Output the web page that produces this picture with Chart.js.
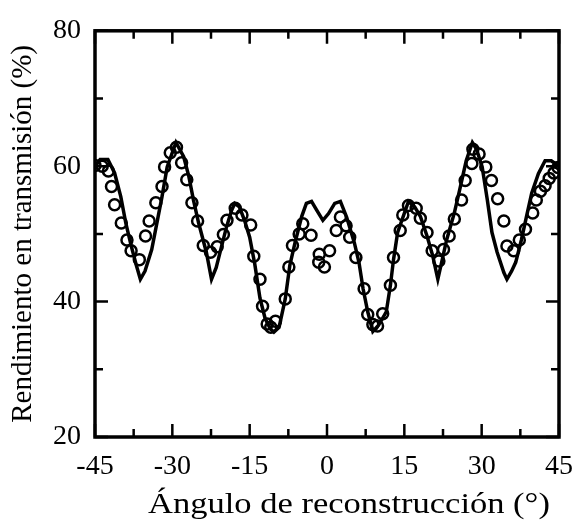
<!DOCTYPE html>
<html>
<head>
<meta charset="utf-8">
<script src="https://cdn.jsdelivr.net/npm/chart.js@4/dist/chart.umd.min.js"></script>
<style>
  html, body { margin: 0; padding: 0; background: #fff; }
  #wrap { position: relative; width: 586px; height: 532px; }
</style>
</head>
<body>
<div id="wrap"><canvas id="chart" width="586" height="532"></canvas></div>
<script>
// theory curve (solid line)
const theoryAngle = [-45, -44, -42.5, -41.2, -40, -39, -38, -37, -36.2, -35.3, -34, -33, -32, -31, -29.3,
  -27.8, -26.8, -25.9, -24.9, -23.4, -22.4, -21.5, -20.5, -19.5, -18.5, -17.9, -17, -16, -15, -14, -13,
  -12, -11, -10.3, -9.3, -8.1, -7.2, -6.2, -4.9, -4.0, -3, -2, -0.8, 0.3, 1.5, 2.6, 3.8, 5.3, 6.2, 7,
  7.9, 8.9, 10, 11.5, 12.3, 12.9, 13.7, 15.8, 17, 18.1, 19.4, 20.5, 21.5, 22.3, 23.2, 24.7, 25.7, 27,
  28.2, 29, 30.1, 31.1, 32, 33, 34.3, 34.9, 35.8, 36.6, 37.7, 38.7, 39.7, 41, 42.3, 43.5, 45];
const theoryYield = [60, 61, 61, 59, 55.5, 51.5, 48.3, 45.4, 43.3, 44.5, 47.7, 51.6, 55.5, 59.9, 63.5,
  61.4, 58.5, 55, 51.6, 47.3, 43.3, 45, 48, 51, 53.5, 54.5, 54, 52, 49.5, 45.5, 40.5,
  37.5, 36, 35.5, 36.2, 40.4, 45.4, 48.7, 52.6, 54.5, 54.8, 53.5, 52, 53, 54.5, 54.8, 52.5, 48.7, 45.8, 41.9,
  38.5, 35.6, 36.5, 38.5, 42.4, 46.2, 50.2, 54.8, 54, 52.6, 49.7, 46.8, 43.3, 46, 49.1, 53.1, 56.4, 60.8,
  63.5, 62.5, 59.9, 55, 50.2, 47.3, 44.3, 43.3, 44.5, 45.8, 49.1, 52.6, 56, 58.9, 60.8, 60.8, 60];

// measured points (open circles)
const expAngle = [-45, -43.6, -42.4, -41.8, -41.2, -39.9, -38.8, -38.0, -36.4, -35.2, -34.5, -33.2, -32.0,
  -31.5, -30.4, -29.2, -28.2, -27.2, -26.2, -25.1, -24.0, -22.6, -21.3, -20.1, -19.4, -17.8, -16.5, -14.8,
  -14.2, -13.0, -12.5, -11.6, -10.9, -10.0, -8.1, -7.4, -6.7, -5.4, -4.7, -3.1, -1.5, -1.6, -0.5, 0.5,
  1.8, 2.6, 3.7, 4.4, 5.6, 7.2, 7.9, 8.9, 9.8, 10.8, 12.3, 12.9, 14.2, 14.7, 15.8, 17.3, 18.1, 19.4,
  20.4, 21.7, 22.6, 23.7, 24.7, 26.1, 26.8, 28.1, 28.3, 29.5, 30.8, 31.9, 33.1, 34.3, 34.9, 36.2, 37.3,
  38.5, 39.9, 40.6, 41.4, 42.3, 43.1, 44.0, 44.8];
const expYield = [60.1, 60.0, 59.3, 57.0, 54.3, 51.6, 49.1, 47.5, 46.2, 49.7, 51.9, 54.6, 57.0,
  59.9, 62.0, 62.8, 60.5, 58.0, 54.6, 51.9, 48.3, 47.3, 48.1, 49.9, 52.0, 53.8, 52.8, 51.3,
  46.7, 43.3, 39.3, 36.7, 36.2, 37.1, 40.4, 45.1, 48.3, 50.0, 51.5, 49.8, 47.0, 45.8, 45.1, 47.5,
  50.5, 52.5, 51.2, 49.5, 46.5, 41.9, 38.1, 36.6, 36.4, 38.2, 42.4, 46.5, 50.5, 52.8, 54.2, 53.8, 52.3, 50.2,
  47.5, 46.0, 47.7, 49.7, 52.2, 55.0, 57.9, 60.4, 62.5, 61.8, 59.9, 57.9, 55.2, 51.9, 48.2, 47.5, 49.1,
  50.7, 53.1, 55.0, 56.3, 57.1, 58.2, 59.0, 59.8];

const xMajor = 15, yMajor = 20;
const SERIF = "'Liberation Serif', 'Times New Roman', serif";

// inward ticks on all four sides + frame, and the axis titles
const framePlugin = {
  id: "frame",
  afterDraw(chart) {
    const { ctx, chartArea: a, scales } = chart;
    ctx.save();
    ctx.strokeStyle = "#000";
    ctx.lineWidth = 2.5;
    scales.x.ticks.forEach(t => {
      const px = scales.x.getPixelForValue(t.value);
      const len = Math.abs(t.value % xMajor) < 1e-6 ? 13 : 8;
      ctx.beginPath();
      ctx.moveTo(px, a.bottom); ctx.lineTo(px, a.bottom - len);
      ctx.moveTo(px, a.top); ctx.lineTo(px, a.top + len);
      ctx.stroke();
    });
    scales.y.ticks.forEach(t => {
      const py = scales.y.getPixelForValue(t.value);
      const len = Math.abs(t.value % yMajor) < 1e-6 ? 13 : 8;
      ctx.beginPath();
      ctx.moveTo(a.left, py); ctx.lineTo(a.left + len, py);
      ctx.moveTo(a.right, py); ctx.lineTo(a.right - len, py);
      ctx.stroke();
    });
    ctx.lineWidth = 3.5;
    ctx.strokeRect(a.left, a.top, a.right - a.left, a.bottom - a.top);

    ctx.fillStyle = "#000";
    ctx.font = "30px " + SERIF;
    ctx.textAlign = "center";
    ctx.textBaseline = "alphabetic";
    // scanned original is a little stretched sideways
    ctx.save();
    ctx.translate((a.left + a.right) / 2 + 22, a.bottom + 76);
    ctx.scale(1.15, 1);
    ctx.fillText("Ángulo de reconstrucción (°)", 0, 0);
    ctx.restore();
    ctx.translate(31, (a.top + a.bottom) / 2);
    ctx.rotate(-Math.PI / 2);
    ctx.font = "29px " + SERIF;
    ctx.fillText("Rendimiento en transmisión (%)", 0, 0);
    ctx.restore();
  }
};

new Chart(document.getElementById("chart").getContext("2d"), {
  type: "scatter",
  data: {
    datasets: [
      {
        label: "Teoría",
        data: theoryAngle.map((x, i) => ({ x, y: theoryYield[i] })),
        showLine: true,
        borderColor: "#000",
        borderWidth: 3.5,
        pointRadius: 0,
        tension: 0
      },
      {
        label: "Experimento",
        data: expAngle.map((x, i) => ({ x, y: expYield[i] })),
        showLine: false,
        pointStyle: "circle",
        pointRadius: 5.5,
        borderWidth: 2.5,
        borderColor: "#000",
        backgroundColor: "rgba(0,0,0,0)"
      }
    ]
  },
  options: {
    responsive: false,
    animation: false,
    layout: { padding: { left: 0, top: 25, right: 20, bottom: 0 } },
    plugins: { legend: { display: false }, tooltip: { enabled: false } },
    scales: {
      x: {
        type: "linear",
        min: -45, max: 45,
        grid: { display: false, drawTicks: false },
        border: { display: false },
        afterFit: s => { s.height = 95; },
        ticks: {
          stepSize: 7.5,
          autoSkip: false,
          maxRotation: 0,
          padding: 13,
          color: "#000",
          font: { family: SERIF, size: 28 },
          callback: v => (Math.abs(v % xMajor) < 1e-6 ? String(v) : "")
        }
      },
      y: {
        min: 20, max: 80,
        grid: { display: false, drawTicks: false },
        border: { display: false },
        afterFit: s => { s.width = 95; },
        ticks: {
          stepSize: 10,
          padding: 14,
          color: "#000",
          font: { family: SERIF, size: 28 },
          callback: v => (v % yMajor === 0 ? String(v) : "")
        }
      }
    }
  },
  plugins: [framePlugin]
});
</script>
</body>
</html>
